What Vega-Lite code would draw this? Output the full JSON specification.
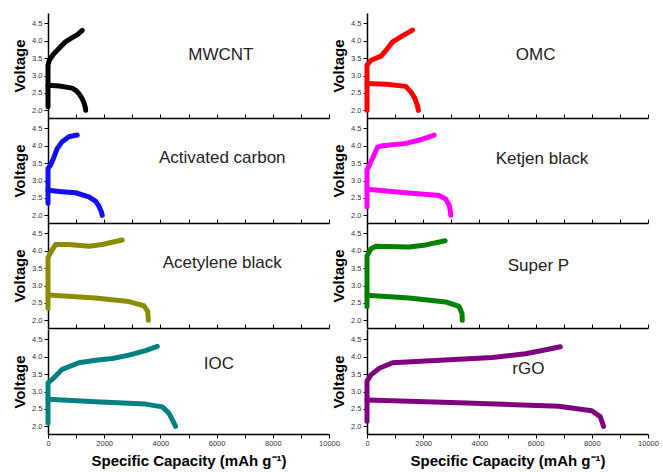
{
  "$schema": "https://vega.github.io/schema/vega-lite/v6.json",
  "padding": {"left": 12, "top": 13, "right": 8, "bottom": 0},
  "background": "white",
  "datasets": {
    "panels": [
      {"m": "MWCNT", "r": 1, "c": "a", "lx": 6150, "ly": 3.58},
      {"m": "OMC", "r": 1, "c": "b", "lx": 6000, "ly": 3.58},
      {"m": "Activated carbon", "r": 2, "c": "a", "lx": 6200, "ly": 3.64},
      {"m": "Ketjen black", "r": 2, "c": "b", "lx": 6230, "ly": 3.61},
      {"m": "Acetylene black", "r": 3, "c": "a", "lx": 6200, "ly": 3.64},
      {"m": "Super P", "r": 3, "c": "b", "lx": 6100, "ly": 3.56},
      {"m": "IOC", "r": 4, "c": "a", "lx": 6080, "ly": 3.78},
      {"m": "rGO", "r": 4, "c": "b", "lx": 5740, "ly": 3.64}
    ],
    "curves": [
      {"m": "MWCNT", "s": "c", "i": 0, "x": 0, "v": 2.1},
      {"m": "MWCNT", "s": "c", "i": 1, "x": 0, "v": 3.3},
      {"m": "MWCNT", "s": "c", "i": 2, "x": 50, "v": 3.45},
      {"m": "MWCNT", "s": "c", "i": 3, "x": 200, "v": 3.62},
      {"m": "MWCNT", "s": "c", "i": 4, "x": 450, "v": 3.83},
      {"m": "MWCNT", "s": "c", "i": 5, "x": 620, "v": 3.97},
      {"m": "MWCNT", "s": "c", "i": 6, "x": 860, "v": 4.09},
      {"m": "MWCNT", "s": "c", "i": 7, "x": 1050, "v": 4.18},
      {"m": "MWCNT", "s": "c", "i": 8, "x": 1220, "v": 4.3},
      {"m": "MWCNT", "s": "d", "i": 0, "x": 0, "v": 2.72},
      {"m": "MWCNT", "s": "d", "i": 1, "x": 400, "v": 2.7},
      {"m": "MWCNT", "s": "d", "i": 2, "x": 860, "v": 2.64},
      {"m": "MWCNT", "s": "d", "i": 3, "x": 1000, "v": 2.57},
      {"m": "MWCNT", "s": "d", "i": 4, "x": 1100, "v": 2.48},
      {"m": "MWCNT", "s": "d", "i": 5, "x": 1200, "v": 2.36},
      {"m": "MWCNT", "s": "d", "i": 6, "x": 1280, "v": 2.22},
      {"m": "MWCNT", "s": "d", "i": 7, "x": 1330, "v": 2.08},
      {"m": "MWCNT", "s": "d", "i": 8, "x": 1340, "v": 2.0},

      {"m": "OMC", "s": "c", "i": 0, "x": 0, "v": 2.0},
      {"m": "OMC", "s": "c", "i": 1, "x": 0, "v": 3.3},
      {"m": "OMC", "s": "c", "i": 2, "x": 140, "v": 3.44},
      {"m": "OMC", "s": "c", "i": 3, "x": 500, "v": 3.56},
      {"m": "OMC", "s": "c", "i": 4, "x": 700, "v": 3.75},
      {"m": "OMC", "s": "c", "i": 5, "x": 910, "v": 3.97},
      {"m": "OMC", "s": "c", "i": 6, "x": 1260, "v": 4.14},
      {"m": "OMC", "s": "c", "i": 7, "x": 1620, "v": 4.31},
      {"m": "OMC", "s": "d", "i": 0, "x": 0, "v": 2.77},
      {"m": "OMC", "s": "d", "i": 1, "x": 700, "v": 2.75},
      {"m": "OMC", "s": "d", "i": 2, "x": 1380, "v": 2.69},
      {"m": "OMC", "s": "d", "i": 3, "x": 1560, "v": 2.53},
      {"m": "OMC", "s": "d", "i": 4, "x": 1700, "v": 2.35},
      {"m": "OMC", "s": "d", "i": 5, "x": 1790, "v": 2.15},
      {"m": "OMC", "s": "d", "i": 6, "x": 1830, "v": 2.0},

      {"m": "Activated carbon", "s": "c", "i": 0, "x": 0, "v": 2.35},
      {"m": "Activated carbon", "s": "c", "i": 1, "x": 0, "v": 3.35},
      {"m": "Activated carbon", "s": "c", "i": 2, "x": 90, "v": 3.44},
      {"m": "Activated carbon", "s": "c", "i": 3, "x": 200, "v": 3.65},
      {"m": "Activated carbon", "s": "c", "i": 4, "x": 326, "v": 3.92},
      {"m": "Activated carbon", "s": "c", "i": 5, "x": 505, "v": 4.12},
      {"m": "Activated carbon", "s": "c", "i": 6, "x": 740, "v": 4.26},
      {"m": "Activated carbon", "s": "c", "i": 7, "x": 1040, "v": 4.31},
      {"m": "Activated carbon", "s": "d", "i": 0, "x": 0, "v": 2.72},
      {"m": "Activated carbon", "s": "d", "i": 1, "x": 500, "v": 2.68},
      {"m": "Activated carbon", "s": "d", "i": 2, "x": 980, "v": 2.65},
      {"m": "Activated carbon", "s": "d", "i": 3, "x": 1455, "v": 2.53},
      {"m": "Activated carbon", "s": "d", "i": 4, "x": 1700, "v": 2.4},
      {"m": "Activated carbon", "s": "d", "i": 5, "x": 1810, "v": 2.27},
      {"m": "Activated carbon", "s": "d", "i": 6, "x": 1900, "v": 2.1},
      {"m": "Activated carbon", "s": "d", "i": 7, "x": 1930, "v": 2.0},

      {"m": "Ketjen black", "s": "c", "i": 0, "x": 0, "v": 2.25},
      {"m": "Ketjen black", "s": "c", "i": 1, "x": 0, "v": 3.3},
      {"m": "Ketjen black", "s": "c", "i": 2, "x": 140, "v": 3.54},
      {"m": "Ketjen black", "s": "c", "i": 3, "x": 380, "v": 3.97},
      {"m": "Ketjen black", "s": "c", "i": 4, "x": 555, "v": 4.0},
      {"m": "Ketjen black", "s": "c", "i": 5, "x": 1380, "v": 4.07},
      {"m": "Ketjen black", "s": "c", "i": 6, "x": 1975, "v": 4.19},
      {"m": "Ketjen black", "s": "c", "i": 7, "x": 2390, "v": 4.31},
      {"m": "Ketjen black", "s": "d", "i": 0, "x": 0, "v": 2.75},
      {"m": "Ketjen black", "s": "d", "i": 1, "x": 1380, "v": 2.65},
      {"m": "Ketjen black", "s": "d", "i": 2, "x": 2565, "v": 2.57},
      {"m": "Ketjen black", "s": "d", "i": 3, "x": 2800, "v": 2.47},
      {"m": "Ketjen black", "s": "d", "i": 4, "x": 2920, "v": 2.3},
      {"m": "Ketjen black", "s": "d", "i": 5, "x": 2970, "v": 2.1},
      {"m": "Ketjen black", "s": "d", "i": 6, "x": 2980, "v": 2.0},

      {"m": "Acetylene black", "s": "c", "i": 0, "x": 0, "v": 2.35},
      {"m": "Acetylene black", "s": "c", "i": 1, "x": 0, "v": 3.8},
      {"m": "Acetylene black", "s": "c", "i": 2, "x": 89, "v": 3.95},
      {"m": "Acetylene black", "s": "c", "i": 3, "x": 267, "v": 4.18},
      {"m": "Acetylene black", "s": "c", "i": 4, "x": 742, "v": 4.18},
      {"m": "Acetylene black", "s": "c", "i": 5, "x": 1455, "v": 4.13},
      {"m": "Acetylene black", "s": "c", "i": 6, "x": 1930, "v": 4.18},
      {"m": "Acetylene black", "s": "c", "i": 7, "x": 2640, "v": 4.31},
      {"m": "Acetylene black", "s": "d", "i": 0, "x": 0, "v": 2.73},
      {"m": "Acetylene black", "s": "d", "i": 1, "x": 1690, "v": 2.64},
      {"m": "Acetylene black", "s": "d", "i": 2, "x": 2880, "v": 2.54},
      {"m": "Acetylene black", "s": "d", "i": 3, "x": 3415, "v": 2.42},
      {"m": "Acetylene black", "s": "d", "i": 4, "x": 3550, "v": 2.25},
      {"m": "Acetylene black", "s": "d", "i": 5, "x": 3570, "v": 2.0},

      {"m": "Super P", "s": "c", "i": 0, "x": 0, "v": 2.4},
      {"m": "Super P", "s": "c", "i": 1, "x": 0, "v": 3.85},
      {"m": "Super P", "s": "c", "i": 2, "x": 140, "v": 4.06},
      {"m": "Super P", "s": "c", "i": 3, "x": 320, "v": 4.13},
      {"m": "Super P", "s": "c", "i": 4, "x": 1500, "v": 4.11},
      {"m": "Super P", "s": "c", "i": 5, "x": 2090, "v": 4.17},
      {"m": "Super P", "s": "c", "i": 6, "x": 2780, "v": 4.29},
      {"m": "Super P", "s": "d", "i": 0, "x": 0, "v": 2.72},
      {"m": "Super P", "s": "d", "i": 1, "x": 1500, "v": 2.64},
      {"m": "Super P", "s": "d", "i": 2, "x": 2800, "v": 2.53},
      {"m": "Super P", "s": "d", "i": 3, "x": 3275, "v": 2.4},
      {"m": "Super P", "s": "d", "i": 4, "x": 3380, "v": 2.2},
      {"m": "Super P", "s": "d", "i": 5, "x": 3390, "v": 2.0},

      {"m": "IOC", "s": "c", "i": 0, "x": 0, "v": 2.1},
      {"m": "IOC", "s": "c", "i": 1, "x": 0, "v": 3.25},
      {"m": "IOC", "s": "c", "i": 2, "x": 150, "v": 3.35},
      {"m": "IOC", "s": "c", "i": 3, "x": 505, "v": 3.64},
      {"m": "IOC", "s": "c", "i": 4, "x": 1100, "v": 3.83},
      {"m": "IOC", "s": "c", "i": 5, "x": 1690, "v": 3.9},
      {"m": "IOC", "s": "c", "i": 6, "x": 2290, "v": 3.95},
      {"m": "IOC", "s": "c", "i": 7, "x": 2880, "v": 4.05},
      {"m": "IOC", "s": "c", "i": 8, "x": 3470, "v": 4.18},
      {"m": "IOC", "s": "c", "i": 9, "x": 3890, "v": 4.3},
      {"m": "IOC", "s": "d", "i": 0, "x": 0, "v": 2.78},
      {"m": "IOC", "s": "d", "i": 1, "x": 1690, "v": 2.71},
      {"m": "IOC", "s": "d", "i": 2, "x": 3470, "v": 2.64},
      {"m": "IOC", "s": "d", "i": 3, "x": 4070, "v": 2.56},
      {"m": "IOC", "s": "d", "i": 4, "x": 4300, "v": 2.38},
      {"m": "IOC", "s": "d", "i": 5, "x": 4450, "v": 2.15},
      {"m": "IOC", "s": "d", "i": 6, "x": 4540, "v": 2.0},

      {"m": "rGO", "s": "c", "i": 0, "x": 0, "v": 2.15},
      {"m": "rGO", "s": "c", "i": 1, "x": 0, "v": 3.3},
      {"m": "rGO", "s": "c", "i": 2, "x": 140, "v": 3.48},
      {"m": "rGO", "s": "c", "i": 3, "x": 437, "v": 3.67},
      {"m": "rGO", "s": "c", "i": 4, "x": 910, "v": 3.83},
      {"m": "rGO", "s": "c", "i": 5, "x": 2090, "v": 3.88},
      {"m": "rGO", "s": "c", "i": 6, "x": 3275, "v": 3.93},
      {"m": "rGO", "s": "c", "i": 7, "x": 4460, "v": 3.98},
      {"m": "rGO", "s": "c", "i": 8, "x": 5640, "v": 4.09},
      {"m": "rGO", "s": "c", "i": 9, "x": 6230, "v": 4.18},
      {"m": "rGO", "s": "c", "i": 10, "x": 6880, "v": 4.29},
      {"m": "rGO", "s": "d", "i": 0, "x": 0, "v": 2.76},
      {"m": "rGO", "s": "d", "i": 1, "x": 3275, "v": 2.68},
      {"m": "rGO", "s": "d", "i": 2, "x": 6820, "v": 2.58},
      {"m": "rGO", "s": "d", "i": 3, "x": 8000, "v": 2.45},
      {"m": "rGO", "s": "d", "i": 4, "x": 8300, "v": 2.28},
      {"m": "rGO", "s": "d", "i": 5, "x": 8420, "v": 2.0}
    ]
  },
  "vconcat": [
    {
      "data": {"name": "curves"},
      "transform": [
        {"lookup": "m", "from": {"data": {"name": "panels"}, "key": "m", "fields": ["r", "c", "lx", "ly"]}},
        {"filter": "datum.r <= 3"}
      ],
      "facet": {
        "row": {"field": "r", "type": "ordinal", "header": {"labels": false, "title": null}},
        "column": {"field": "c", "type": "nominal", "header": {"labels": false, "title": null}}
      },
      "spacing": {"row": 0, "column": 38},
      "bounds": "flush",
      "resolve": {"axis": {"x": "independent", "y": "independent"}},
      "spec": {
        "width": 281,
        "height": 105,
        "layer": [
          {
            "mark": {"type": "line", "strokeWidth": 5, "strokeCap": "round", "strokeJoin": "round"},
            "encoding": {
              "x": {"field": "x", "type": "quantitative", "scale": {"domain": [0, 10000], "nice": false},
                "axis": {"labels": false, "title": null, "values": [0,1000,2000,3000,4000,5000,6000,7000,8000,9000,10000], "tickSize": -4}},
              "y": {"field": "v", "type": "quantitative", "scale": {"domain": [1.78, 4.8], "nice": false},
                "axis": {"title": "Voltage", "values": [2,2.5,3,3.5,4,4.5], "labelExpr": "format(datum.value, '.1f')", "tickSize": 4, "labelOverlap": false}},
              "color": {"field": "m", "type": "nominal", "legend": null,
                "scale": {"domain": ["MWCNT","OMC","Activated carbon","Ketjen black","Acetylene black","Super P","IOC","rGO"],
                  "range": ["#000000","#ff0000","#1010f0","#ff00ff","#8c8c00","#008000","#008080","#800080"]}},
              "detail": {"field": "s"},
              "order": {"field": "i", "type": "quantitative"}
            }
          },
          {
            "transform": [{"filter": "datum.s == 'c' && datum.i == 0"}],
            "mark": {"type": "text", "fontSize": 17, "font": "Liberation Sans", "color": "#222222"},
            "encoding": {
              "x": {"field": "lx", "type": "quantitative",
                "axis": {"labels": false, "title": null, "values": [0,1000,2000,3000,4000,5000,6000,7000,8000,9000,10000], "tickSize": -4}},
              "y": {"field": "ly", "type": "quantitative",
                "axis": {"title": "Voltage", "values": [2,2.5,3,3.5,4,4.5], "labelExpr": "format(datum.value, '.1f')", "tickSize": 4, "labelOverlap": false}},
              "text": {"field": "m"}
            }
          }
        ]
      }
    },
    {
      "data": {"name": "curves"},
      "transform": [
        {"lookup": "m", "from": {"data": {"name": "panels"}, "key": "m", "fields": ["r", "c", "lx", "ly"]}},
        {"filter": "datum.r == 4"}
      ],
      "facet": {
        "column": {"field": "c", "type": "nominal", "header": {"labels": false, "title": null}}
      },
      "spacing": {"column": 38},
      "bounds": "flush",
      "resolve": {"axis": {"x": "independent", "y": "independent"}},
      "spec": {
        "width": 281,
        "height": 105,
        "layer": [
          {
            "mark": {"type": "line", "strokeWidth": 5, "strokeCap": "round", "strokeJoin": "round"},
            "encoding": {
              "x": {"field": "x", "type": "quantitative", "scale": {"domain": [0, 10000], "nice": false},
                "axis": {"title": "Specific Capacity (mAh g⁻¹)", "values": [0,1000,2000,3000,4000,5000,6000,7000,8000,9000,10000],
                  "labelExpr": "datum.value % 2000 == 0 ? format(datum.value, 'd') : ''", "tickSize": 4, "labelPadding": 1, "titlePadding": 7, "labelFlush": false, "labelOverlap": false}},
              "y": {"field": "v", "type": "quantitative", "scale": {"domain": [1.78, 4.8], "nice": false},
                "axis": {"title": "Voltage", "values": [2,2.5,3,3.5,4,4.5], "labelExpr": "format(datum.value, '.1f')", "tickSize": 4, "labelOverlap": false}},
              "color": {"field": "m", "type": "nominal", "legend": null,
                "scale": {"domain": ["MWCNT","OMC","Activated carbon","Ketjen black","Acetylene black","Super P","IOC","rGO"],
                  "range": ["#000000","#ff0000","#1010f0","#ff00ff","#8c8c00","#008000","#008080","#800080"]}},
              "detail": {"field": "s"},
              "order": {"field": "i", "type": "quantitative"}
            }
          },
          {
            "transform": [{"filter": "datum.s == 'c' && datum.i == 0"}],
            "mark": {"type": "text", "fontSize": 17, "font": "Liberation Sans", "color": "#222222"},
            "encoding": {
              "x": {"field": "lx", "type": "quantitative",
                "axis": {"title": "Specific Capacity (mAh g⁻¹)", "values": [0,1000,2000,3000,4000,5000,6000,7000,8000,9000,10000],
                  "labelExpr": "datum.value % 2000 == 0 ? format(datum.value, 'd') : ''", "tickSize": 4, "labelPadding": 1, "titlePadding": 7, "labelFlush": false, "labelOverlap": false}},
              "y": {"field": "ly", "type": "quantitative",
                "axis": {"title": "Voltage", "values": [2,2.5,3,3.5,4,4.5], "labelExpr": "format(datum.value, '.1f')", "tickSize": 4, "labelOverlap": false}},
              "text": {"field": "m"}
            }
          }
        ]
      }
    }
  ],
  "spacing": 0,
  "config": {
    "view": {"stroke": null},
    "axis": {
      "domainColor": "#000000", "domainWidth": 1.5, "tickColor": "#000000", "tickWidth": 1,
      "labelFont": "Liberation Sans", "labelFontSize": 7.5, "labelColor": "#333333", "labelPadding": 2,
      "titleFont": "Liberation Sans", "titleFontWeight": "bold", "titleColor": "#000000", "titleFontSize": 15,
      "titlePadding": 4, "grid": false, "labelOverlap": false
    }
  }
}
